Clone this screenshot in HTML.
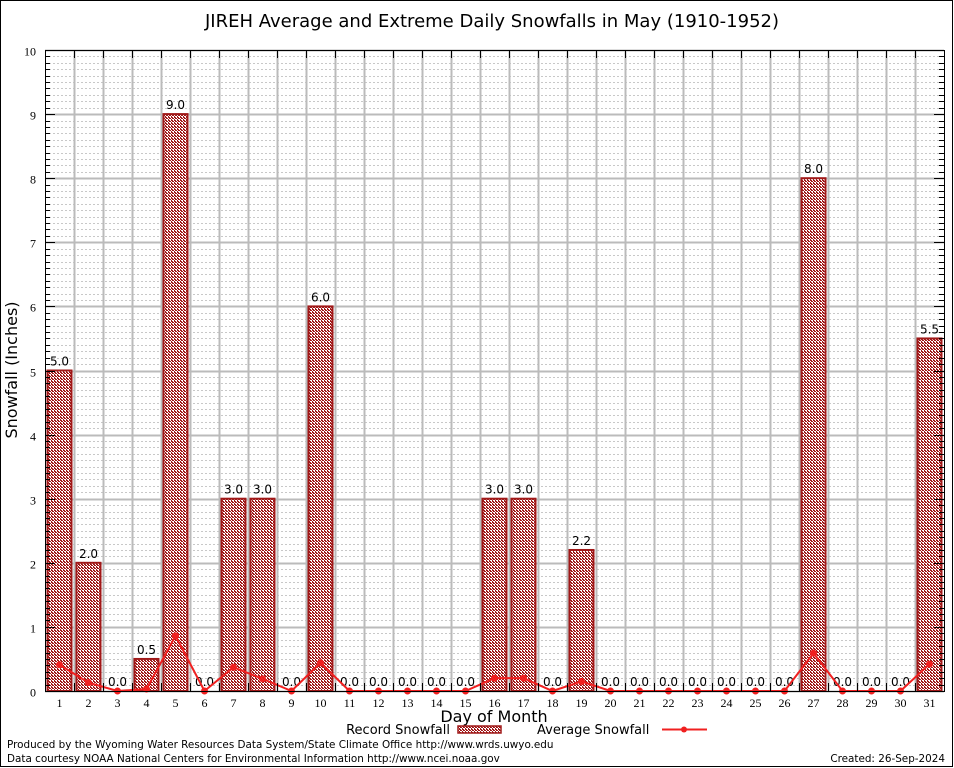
<!DOCTYPE html>
<html><head><meta charset="utf-8"><style>
html,body{margin:0;padding:0;background:#fff;}
svg{display:block;font-family:"DejaVu Sans","Liberation Sans",sans-serif;}
</style></head><body>
<svg id="chart" width="954" height="768" viewBox="0 0 954 768">
<defs>
<pattern id="hatch" width="3" height="3" patternUnits="userSpaceOnUse">
<rect width="3" height="3" fill="#fff"/>
<rect width="2" height="1" fill="#a01818"/>
<rect x="1" y="1" width="2" height="1" fill="#a01818"/>
<rect x="0" y="2" width="1" height="1" fill="#a01818"/>
</pattern>
</defs>
<rect x="0.5" y="0.5" width="952" height="766" fill="#fff" stroke="#000"/>
<text x="492" y="27" font-size="18" text-anchor="middle">JIREH Average and Extreme Daily Snowfalls in May (1910-1952)</text>
<g id="grid"></g>
<g id="bars"></g>
<g id="avg"></g>
<g id="axes"></g>
<text transform="translate(17,370) rotate(-90)" font-size="16" text-anchor="middle">Snowfall (Inches)</text>
<text x="494" y="722" font-size="16" text-anchor="middle">Day of Month</text>
<g>
<text x="450" y="734" font-size="13" text-anchor="end">Record Snowfall</text>
<rect x="458" y="726" width="43" height="7" fill="url(#hatch)" stroke="#a01818" stroke-width="1.5"/>
<text x="537" y="734" font-size="13">Average Snowfall</text>
<line x1="662" y1="729.5" x2="707" y2="729.5" stroke="#f02020" stroke-width="2"/>
<circle cx="684" cy="729.5" r="3" fill="#f02020"/>
</g>
<text x="7" y="748" font-size="10.4">Produced by the Wyoming Water Resources Data System/State Climate Office http://www.wrds.uwyo.edu</text>
<text x="7" y="762" font-size="10.4">Data courtesy NOAA National Centers for Environmental Information http://www.ncei.noaa.gov</text>
<text x="945" y="762" font-size="10.4" text-anchor="end">Created:  26-Sep-2024</text>
</svg>
<script>
const days = [1,2,3,4,5,6,7,8,9,10,11,12,13,14,15,16,17,18,19,20,21,22,23,24,25,26,27,28,29,30,31];
const recordSnow = [5.0,2.0,0,0.5,9.0,0,3.0,3.0,0,6.0,0,0,0,0,0,3.0,3.0,0,2.2,0,0,0,0,0,0,0,8.0,0,0,0,5.5];
const avgSnow = [0.41,0.13,0,0.03,0.86,0,0.37,0.19,0,0.44,0,0,0,0,0,0.2,0.2,0,0.15,0,0,0,0,0,0,0,0.59,0,0,0,0.42];
const yTicks = [0,1,2,3,4,5,6,7,8,9,10];

const NS='http://www.w3.org/2000/svg';
const L=45,R=944,T=50,B=691,YMAX=10;
const dx=(R-L)/days.length;
const xPos=d=>L+(d-0.5)*dx;
const yPos=v=>B-(v/YMAX)*(B-T);
function mk(tag,attrs,parent){const e=document.createElementNS(NS,tag);for(const k in attrs)e.setAttribute(k,attrs[k]);parent.appendChild(e);return e;}
const grid=document.getElementById('grid'),bars=document.getElementById('bars'),avg=document.getElementById('avg'),axes=document.getElementById('axes');

for(let i=1;i<YMAX*10;i++){ if(i%10===0)continue;
  const y=Math.round(yPos(i/10))+0.5;
  const l=mk('line',{x1:L,x2:R,y1:y,y2:y,stroke:'#c8c8c8','stroke-width':1,'stroke-dasharray':'2,2'},grid);
  
  
}
yTicks.forEach(t=>{
  const y=Math.round(yPos(t))+0.5;
  const l=mk('line',{x1:L,x2:R,y1:y,y2:y,stroke:'#bbb','stroke-width':2},grid);
  
  
  const tx=mk('text',{x:L-9,y:y+5,'font-size':12,'text-anchor':'end','font-family':'Liberation Serif, serif'},axes);
  tx.textContent=t;
  
  
  mk('line',{x1:L,x2:L+10,y1:y,y2:y,stroke:'#000'},axes);
  mk('line',{x1:R-10,x2:R,y1:y,y2:y,stroke:'#000'},axes);
});
for(let i=1;i<YMAX*10;i++){ if(i%10===0)continue;
  const y=Math.round(yPos(i/10))+0.5;
  mk('line',{x1:L,x2:L+5,y1:y,y2:y,stroke:'#000'},axes);
  mk('line',{x1:R-5,x2:R,y1:y,y2:y,stroke:'#000'},axes);
}
for(let d=1;d<days.length;d++){
  const x=Math.round(L+d*dx)+0.5;
  const l=mk('line',{x1:x,x2:x,y1:T,y2:B,stroke:'#bbb','stroke-width':2},grid);
  
  
  mk('line',{x1:x,x2:x,y1:T,y2:T+8,stroke:'#000'},axes);
  mk('line',{x1:x,x2:x,y1:B-8,y2:B,stroke:'#000'},axes);
}
days.forEach((d,i)=>{
  const x=xPos(d);
  const tx=mk('text',{x:x,y:B+16,'font-size':12,'text-anchor':'middle','font-family':'Liberation Serif, serif'},axes);
  tx.textContent=d;
  
  
  const v=recordSnow[i];
  if(v>0){
    const r=mk('rect',{x:x-12,y:yPos(v),width:24,height:B-yPos(v),fill:'url(#hatch)',stroke:'#a01818','stroke-width':2},bars);
    
    
  }
  const lab=mk('text',{x:x,y:yPos(v)-5,'font-size':12,'text-anchor':'middle'},bars);
  lab.textContent=v.toFixed(1);
  
  
});
const pl=mk('polyline',{points:days.map((d,i)=>xPos(d)+','+yPos(avgSnow[i])).join(' '),fill:'none',stroke:'#f02020','stroke-width':2},avg);


days.forEach((d,i)=>{
  const c=mk('circle',{cx:xPos(d),cy:yPos(avgSnow[i]),r:3.5,fill:'#f02020'},avg);
  
  
});
const fr=mk('rect',{x:L+0.5,y:T+0.5,width:R-L,height:B-T,fill:'none',stroke:'#000'},axes);


</script>
</body></html>
